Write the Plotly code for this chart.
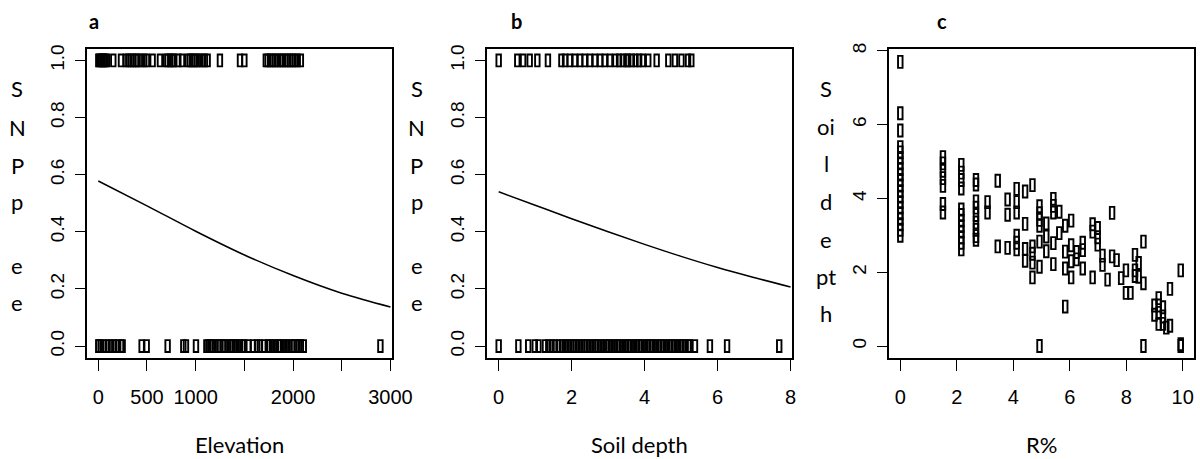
import plotly.graph_objects as go

# ---------------- data ----------------
# Panel a: elevation of sites where SNP present (1) / absent (0)
elev_present = [0, 10, 30, 45, 61, 75, 88, 154, 233, 284, 308, 335, 360, 387, 404, 438, 472, 499,
                558, 633, 695, 712, 740, 763, 780, 822, 859, 920, 941, 965, 986, 1010, 1037, 1070,
                1095, 1123, 1249, 1455, 1500, 1720, 1739, 1765, 1791, 1815, 1842, 1870, 1894, 1920,
                1945, 1970, 1996, 2020, 2048, 2080]
elev_absent = [0, 5, 27, 61, 96, 130, 164, 198, 233, 250, 445, 497, 712, 873, 900, 1003,
               1110, 1130, 1150, 1170, 1200, 1230, 1250, 1280, 1300, 1330, 1360, 1380, 1400,
               1420, 1450, 1480, 1500, 1540, 1590, 1630, 1660, 1700, 1740, 1760, 1790, 1820,
               1850, 1870, 1900, 1930, 1960, 1990, 2010, 2040, 2060, 2080, 2110, 2897]
# fitted probability curve
elev_curve_x = [0, 500, 1000, 1500, 2000, 2500, 3000]
elev_curve_y = [0.578, 0.491, 0.402, 0.319, 0.247, 0.185, 0.137]

# Panel b: soil depth
soil_present = [0.0, 0.51, 0.67, 0.85, 1.06, 1.35, 1.72, 1.82, 1.95, 2.09, 2.23, 2.36, 2.50,
                2.64, 2.78, 2.91, 3.05, 3.2, 3.3, 3.4, 3.5, 3.55, 3.65, 3.75, 3.85, 3.95, 4.10,
                4.33, 4.65, 4.83, 5.01, 5.19, 5.28]
soil_absent = [0.0, 0.54, 0.81, 0.99, 1.09, 1.27, 1.36, 1.45, 1.54, 1.64, 1.73, 1.82, 1.9, 1.98,
               2.05, 2.12, 2.2, 2.28, 2.35, 2.42, 2.5, 2.58, 2.65, 2.72, 2.8, 2.88, 2.95, 3.02,
               3.1, 3.18, 3.25, 3.32, 3.4, 3.48, 3.55, 3.62, 3.7, 3.78, 3.85, 3.92, 4.0, 4.08,
               4.15, 4.22, 4.3, 4.38, 4.45, 4.52, 4.6, 4.68, 4.75, 4.82, 4.9, 4.98, 5.05, 5.12,
               5.2, 5.24, 5.38, 5.79, 6.26, 7.69]
soil_curve_x = [0, 1, 2, 3, 4, 5, 6, 7, 8]
soil_curve_y = [0.540, 0.493, 0.446, 0.400, 0.356, 0.314, 0.275, 0.240, 0.207]

# Panel c: soil depth vs R%
rpct = ([0.0] * 20
        + [1.51] * 7
        + [2.16] * 12
        + [2.68] * 9
        + [3.09] * 2
        + [3.45] * 2
        + [3.80] * 3
        + [4.12] * 6
        + [4.42] * 4
        + [4.68] * 5
        + [4.93] * 7
        + [5.17] * 3
        + [5.42] * 5
        + [5.63] * 2
        + [5.84] * 4
        + [6.05] * 4
        + [6.24] * 2
        + [6.46] * 3
        + [6.81] * 3
        + [6.99] * 3
        + [7.16] * 2
        + [7.34]
        + [7.50] * 2
        + [7.66]
        + [7.82]
        + [7.99] * 2
        + [8.15]
        + [8.31] * 3
        + [8.44] * 2
        + [8.61] * 3
        + [9.00] * 2
        + [9.15] * 4
        + [9.30] * 3
        + [9.42]
        + [9.55] * 2
        + [9.93] * 3)
depth = ([7.70, 6.31, 5.84, 5.39, 5.25, 5.10, 4.95, 4.80, 4.65, 4.50, 4.35, 4.20, 4.05, 3.90,
          3.75, 3.60, 3.45, 3.30, 3.15, 2.99]
         + [5.12, 4.95, 4.75, 4.55, 4.34, 3.85, 3.62]
         + [4.91, 4.70, 4.50, 4.27, 3.70, 3.55, 3.40, 3.25, 3.10, 2.95, 2.80, 2.62]
         + [4.50, 4.38, 3.92, 3.75, 3.55, 3.35, 3.15, 2.98, 2.88]
         + [3.90, 3.62]
         + [4.48, 2.70]
         + [3.97, 3.56, 2.66]
         + [4.26, 3.90, 3.62, 2.99, 2.80, 2.62]
         + [4.19, 3.31, 2.63, 2.31]
         + [4.36, 2.70, 2.50, 2.26, 1.86]
         + [3.79, 3.60, 3.42, 3.26, 2.83, 2.15, 0.0]
         + [3.32, 2.97, 2.57]
         + [3.99, 3.80, 3.62, 2.79, 2.22]
         + [3.64, 3.06]
         + [3.26, 2.56, 2.10, 1.07]
         + [3.40, 2.73, 2.30, 1.86]
         + [2.55, 2.35]
         + [2.80, 2.60, 2.10]
         + [3.30, 3.10, 1.86]
         + [3.20, 2.95, 2.75]
         + [2.45, 2.20]
         + [1.80]
         + [3.61, 2.43]
         + [2.33]
         + [1.84]
         + [2.05, 1.44]
         + [1.44]
         + [2.47, 2.05, 1.90]
         + [2.25, 1.88]
         + [2.83, 1.70, 0.0]
         + [1.10, 0.85]
         + [1.30, 1.10, 0.90, 0.60]
         + [1.05, 0.80, 0.60]
         + [0.50]
         + [1.55, 0.55]
         + [2.05, 0.05, 0.0])

elev_ticks = [0, 500, 1000, 1500, 2000, 2500, 3000]
elev_ticklabels = ["0", "500", "1000", "", "2000", "", "3000"]
soil_ticks = [0, 2, 4, 6, 8]
prob_ticks = [0.0, 0.2, 0.4, 0.6, 0.8, 1.0]
prob_ticklabels = ["0.0", "0.2", "0.4", "0.6", "0.8", "1.0"]
r_ticks = [0, 2, 4, 6, 8, 10]
depth_ticks = [0, 2, 4, 6, 8]

panel_letters = ["a", "b", "c"]
x_titles = ["Elevation", "Soil depth", "R%"]
y_letters_ab = ["S", "N", "P", "p", "e", "e"]
y_letters_c = ["S", "oi", "l", "d", "e", "pt", "h"]

# ---------------- layout helpers ----------------
W, H = 1200, 459
def px(x):
    return x / W
def py(y):
    return 1 - y / H

fig = go.Figure()

# open tall rectangles as point symbols (R-like), drawn as outlined bars centred on each point
def marks(x, y, xa, ya, w, h):
    fig.add_trace(go.Bar(x=x, y=[h] * len(x), base=[v - h / 2 for v in y], width=w,
                         marker=dict(color="rgba(0,0,0,0)", line=dict(color="black", width=1.9)),
                         xaxis=xa, yaxis=ya, showlegend=False, hoverinfo="skip"))

# symbol sizes in data units per panel (approx. 4.5 x 12 px)
MW_A, MH_A = 46, 0.042
MW_B, MH_B = 0.123, 0.042
MW_C, MH_C = 0.16, 0.325

marks(elev_present, [1] * len(elev_present), "x", "y", MW_A, MH_A)
marks(elev_absent, [0] * len(elev_absent), "x", "y", MW_A, MH_A)
fig.add_trace(go.Scatter(x=elev_curve_x, y=elev_curve_y, mode="lines",
                         line=dict(color="black", width=1.5, shape="spline"),
                         xaxis="x", yaxis="y", showlegend=False))
marks(soil_present, [1] * len(soil_present), "x2", "y2", MW_B, MH_B)
marks(soil_absent, [0] * len(soil_absent), "x2", "y2", MW_B, MH_B)
fig.add_trace(go.Scatter(x=soil_curve_x, y=soil_curve_y, mode="lines",
                         line=dict(color="black", width=1.5, shape="spline"),
                         xaxis="x2", yaxis="y2", showlegend=False))
marks(rpct, depth, "x3", "y3", MW_C, MH_C)

box_top, box_bot = 49, 357.5
panels_x = [(87, 392), (487, 792), (889, 1194)]

tickfont_x = dict(family="Liberation Sans Narrow, Liberation Sans, Arial", size=20, color="black")
tickfont_y = dict(family="Liberation Sans, Arial", size=19, color="black")

common_ax = dict(showline=True, mirror=True, linecolor="black", linewidth=1.6,
                 ticks="outside", tickcolor="black", tickwidth=1.4, showgrid=False,
                 zeroline=False, automargin=False)

def xax(i, rng, tv, tt):
    return dict(domain=[px(panels_x[i][0]), px(panels_x[i][1])], range=rng,
                tickvals=tv, ticktext=tt, ticklen=12, tickfont=tickfont_x,
                ticklabelstandoff=9, anchor="y" if i == 0 else f"y{i+1}", **common_ax)

def yax(i, rng, tv, tt):
    return dict(domain=[py(box_bot), py(box_top)], range=rng, tickvals=tv, ticktext=tt,
                ticklen=10, tickangle=-90, tickfont=tickfont_y, ticklabelstandoff=4,
                anchor="x" if i == 0 else f"x{i+1}", **common_ax)

fig.update_layout(
    width=W, height=H, margin=dict(l=0, r=0, t=0, b=0),
    template="none", paper_bgcolor="white", plot_bgcolor="white",
    barmode="overlay", hovermode=False,
    xaxis=xax(0, [-116, 3016], elev_ticks, elev_ticklabels),
    yaxis=yax(0, [-0.04, 1.04], prob_ticks, prob_ticklabels),
    xaxis2=xax(1, [-0.32, 8.04], soil_ticks, [str(v) for v in soil_ticks]),
    yaxis2=yax(1, [-0.04, 1.04], prob_ticks, prob_ticklabels),
    xaxis3=xax(2, [-0.4, 10.4], r_ticks, [str(v) for v in r_ticks]),
    yaxis3=yax(2, [-0.31, 8.05], depth_ticks, [str(v) for v in depth_ticks]),
)

title_font = dict(family="Lato, Open Sans, sans-serif", size=22, color="black")
ann = []
letter_pos = [(94, 21), (516, 21), (942, 21)]
for (lx, ly), t in zip(letter_pos, panel_letters):
    ann.append(dict(x=px(lx), y=py(ly), xref="paper", yref="paper", text=f"<b>{t}</b>",
                    showarrow=False, xanchor="center", yanchor="middle",
                    font=dict(family="Lato, Open Sans, sans-serif", size=20, color="black")))
title_y = 444
for (x0, x1), t in zip(panels_x, x_titles):
    ann.append(dict(x=px((x0 + x1) / 2), y=py(title_y), xref="paper", yref="paper", text=t,
                    showarrow=False, xanchor="center", yanchor="middle", font=title_font))
ab_y = [88, 127, 165, 201, 265, 302]
for cx in (17, 417):
    for t, yy in zip(y_letters_ab, ab_y):
        ann.append(dict(x=px(cx), y=py(yy), xref="paper", yref="paper", text=t,
                        showarrow=False, xanchor="center", yanchor="middle", font=title_font))
c_y = [88, 126, 163, 201, 239, 276, 313]
for t, yy in zip(y_letters_c, c_y):
    ann.append(dict(x=px(826), y=py(yy), xref="paper", yref="paper", text=t,
                    showarrow=False, xanchor="center", yanchor="middle", font=title_font))
fig.update_layout(annotations=ann)

fig.write_html("out.html", config={"displayModeBar": False},
               post_script="document.body.style.margin='0px';")
